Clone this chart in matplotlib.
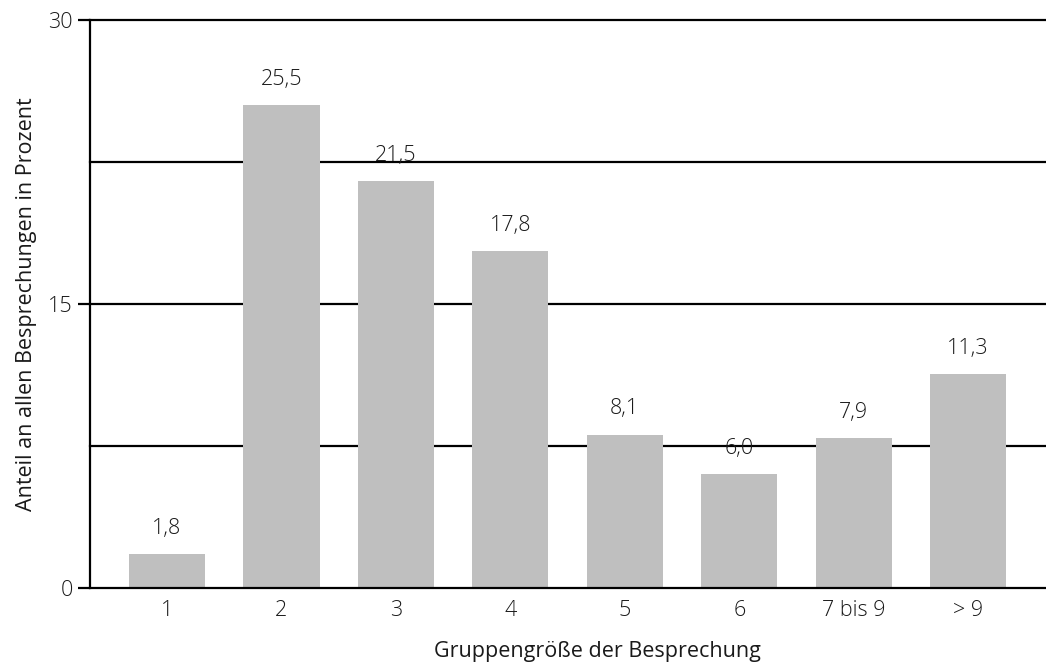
import matplotlib
matplotlib.use("Agg")
import matplotlib.pyplot as plt

# Share of all meetings by group size
categories = ["1", "2", "3", "4", "5", "6", "7 bis 9", "> 9"]
shares = [1.8, 25.5, 21.5, 17.8, 8.1, 6.0, 7.9, 11.3]
value_labels = ["1,8", "25,5", "21,5", "17,8", "8,1", "6,0", "7,9", "11,3"]
y_ticks = [0, 15, 30]
grid_levels = [7.5, 15, 22.5, 30]

plt.rcParams["font.family"] = ["Open Sans", "DejaVu Sans"]
plt.rcParams["font.weight"] = 300
FS = 15.5
TXT = "#1a1a1a"

W, H = 1046, 666
fig = plt.figure(figsize=(W / 100, H / 100), dpi=100)
ax = fig.add_axes([90 / W, (H - 588) / H, (W - 90) / W, (588 - 20) / H])

x = list(range(len(categories)))
bars = ax.bar(x, shares, width=0.665, color="#bfbfbf", zorder=2)

for lvl in grid_levels:
    ax.axhline(lvl, color="black", lw=1.6, zorder=1, clip_on=False)

for rect, txt in zip(bars, value_labels):
    ax.annotate(txt, (rect.get_x() + rect.get_width() / 2, rect.get_height()),
                xytext=(0, 11), textcoords="offset points",
                ha="center", va="bottom", fontsize=FS, color=TXT)

ax.set_xlim(-0.673, 7.68)
ax.set_ylim(0, 30)
ax.set_xticks(x)
ax.set_xticklabels(categories)
ax.set_yticks(y_ticks)
ax.tick_params(axis="x", length=0, pad=9, labelsize=FS, labelcolor=TXT)
ax.tick_params(axis="y", length=8.6, width=1.6, pad=4, labelsize=FS, labelcolor=TXT)

for side in ("top", "right"):
    ax.spines[side].set_visible(False)
for side in ("left", "bottom"):
    ax.spines[side].set_linewidth(1.6)
    ax.spines[side].set_zorder(3)

ax.set_xlabel("Gruppengröße der Besprechung", fontsize=FS, labelpad=14, color=TXT)
ax.xaxis.set_label_coords(597 / W, 0, transform=fig.transFigure)
ax.xaxis.label.set_y(0)
ax.set_ylabel("Anteil an allen Besprechungen in Prozent", fontsize=FS, labelpad=8, color=TXT)

# put the x label centre at the intended horizontal position while keeping its height
xl = ax.xaxis.label
xl.set_transform(fig.transFigure)
xl.set_position((597 / W, (H - 652) / H))
xl.set_verticalalignment("center")

fig.savefig("out.png", dpi=100)
